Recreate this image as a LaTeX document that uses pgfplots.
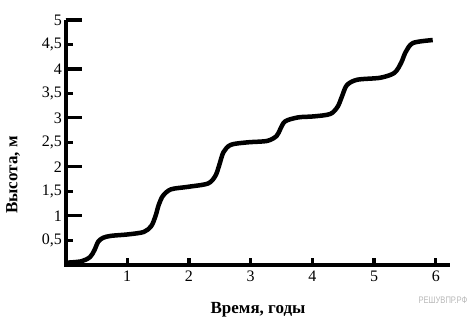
\documentclass[border=0pt]{standalone}
\usepackage{fontspec}
\setmainfont{Liberation Serif}
\newfontfamily\wmfont[FakeStretch=0.8]{Liberation Sans}
\usepackage{pgfplots}
\pgfplotsset{compat=1.18}
\pgfplotsset{base/.style={
  at={(65.5pt,61.3pt)}, anchor=south west,
  scale only axis, width=384.5pt, height=244.7pt,
  xmin=0, xmax=6.23, ymin=0, ymax=5,
  axis lines*=left,
  axis line style={line width=4pt, black},
  clip=false,
  tick align=inside,
  tick style={line width=3.2pt, black},
  minor tick num=0,
  /pgf/number format/assume math mode=true,
  /pgf/number format/use comma,
  tick label style={font=\fontsize{16}{19}\selectfont},
}}
\begin{document}
\begin{tikzpicture}[x=1pt,y=1pt]
\path[use as bounding box] (0,0) rectangle (469,326);
\begin{axis}[base,
  major tick length=16pt,
  xtick=\empty,
  ytick={1,2,3,4,5},
  yticklabels={},
]
\end{axis}
\begin{axis}[base,
  major tick length=7pt,
  xtick={1,2,3,4,5,6},
  ytick={0.5,1,1.5,2,2.5,3,3.5,4,4.5,5},
  xticklabel style={yshift=-3pt},
]
\draw[line width=3.8pt, black, line join=miter] (axis cs:0,5) -- (axis cs:0,0) -- (axis cs:6.23,0);
\addplot[line width=4.5pt, black, smooth, tension=0.5] coordinates {
(0,0.04) (0.26,0.07) (0.40,0.16) (0.47,0.30) (0.53,0.47) (0.61,0.55) (0.74,0.59)
(1.02,0.62) (1.27,0.67) (1.39,0.79) (1.46,1.00) (1.51,1.22) (1.58,1.41) (1.71,1.54)
(1.98,1.59) (2.31,1.66) (2.43,1.82) (2.49,2.03) (2.56,2.30) (2.68,2.45)
(2.95,2.50) (3.27,2.53) (3.42,2.63) (3.48,2.77) (3.56,2.93) (3.77,3.01)
(4.02,3.03) (4.29,3.08) (4.41,3.23) (4.48,3.44) (4.56,3.67) (4.73,3.78)
(5.10,3.82) (5.33,3.92) (5.44,4.13) (5.51,4.34) (5.63,4.53) (5.95,4.59)
};
\end{axis}
\node[font=\bfseries\fontsize{17}{20}\selectfont] at (258,16) {Время, годы};
\node[font=\bfseries\fontsize{17}{20}\selectfont, rotate=90] at (13,151) {Высота, м};
\node[font=\wmfont\fontsize{9.5}{11}\selectfont, text=black!28] at (443,26) {РЕШУВПР.РФ};
\end{tikzpicture}
\end{document}
